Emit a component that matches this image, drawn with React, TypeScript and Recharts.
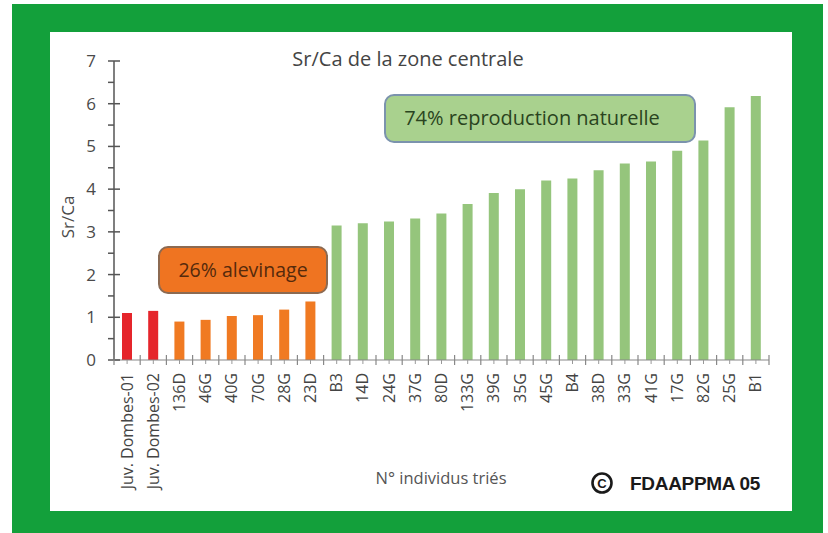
import React from 'react';
import { BarChart, Bar, XAxis, YAxis, Cell } from 'recharts';

const categories = [
  'Juv. Dombes-01', 'Juv. Dombes-02', '136D', '46G', '40G', '70G', '28G', '23D',
  'B3', '14D', '24G', '37G', '80D', '133G', '39G', '35G', '45G', 'B4', '38D',
  '33G', '41G', '17G', '82G', '25G', 'B1',
];
const srCaValues = [
  1.1, 1.15, 0.9, 0.94, 1.03, 1.05, 1.18, 1.37,
  3.15, 3.2, 3.24, 3.31, 3.43, 3.65, 3.91, 4.0, 4.2, 4.25, 4.44,
  4.6, 4.65, 4.9, 5.14, 5.92, 6.18,
];
const groups = [
  'juv', 'juv', 'alev', 'alev', 'alev', 'alev', 'alev', 'alev',
  'nat', 'nat', 'nat', 'nat', 'nat', 'nat', 'nat', 'nat', 'nat', 'nat', 'nat',
  'nat', 'nat', 'nat', 'nat', 'nat', 'nat',
];
const groupColors: Record<string, string> = { juv: '#e5252b', alev: '#f07a22', nat: '#95c57c' };
const yTicks = [0, 0.5, 1, 1.5, 2, 2.5, 3, 3.5, 4, 4.5, 5, 5.5, 6, 6.5, 7];

const data = categories.map((c, i) => ({ name: c, value: srCaValues[i], group: groups[i] }));

const FONT = '"Open Sans", "DejaVu Sans", sans-serif';

const YTick = (props: any) => {
  const { x, y, payload } = props;
  const v = payload.value;
  const major = Number.isInteger(v);
  return (
    <g>
      <line x1={x - 6} x2={x + (major ? 6 : 0)} y1={y} y2={y} stroke="#555" strokeWidth={1.5} />
      {major && (
        <text x={x - 18} y={y} dy={6} textAnchor="end" fontSize={17} fill="#4a4a4a" fontFamily={FONT}>
          {v}
        </text>
      )}
    </g>
  );
};

const XTick = (props: any) => {
  const { x, y, payload, index } = props;
  const off = payload && payload.offset ? payload.offset : 13.1;
  const last = index === categories.length - 1;
  return (
    <g>
      <line x1={x - off} x2={x - off} y1={y - 5} y2={y + 5} stroke="#888" strokeWidth={1.2} />
      {last && <line x1={x + off} x2={x + off} y1={y - 5} y2={y + 5} stroke="#888" strokeWidth={1.2} />}
      <line x1={x} x2={x} y1={y} y2={y + 4} stroke="#999" strokeWidth={1} />
      <text
        transform={`translate(${x},${y + 13}) rotate(-90)`}
        textAnchor="end"
        dy={5.5}
        fontSize={16}
        fill="#444"
        fontFamily={FONT}
      >
        {payload.value}
      </text>
    </g>
  );
};

export default function App() {
  return (
    <div style={{ position: 'absolute', left: 0, top: 0, width: 828, height: 533, background: '#ffffff', overflow: 'hidden' }}>
      <div style={{ position: 'absolute', left: 12, top: 4, width: 811, height: 540, background: '#13a03b' }} />
      <div style={{ position: 'absolute', left: 50, top: 32, width: 742, height: 479, background: '#ffffff' }} />
      <div style={{ position: 'absolute', left: 50, top: 32 }}>
        <BarChart
          width={742}
          height={479}
          data={data}
          margin={{ top: 29, right: 23, bottom: 0, left: 24 }}
        >
          <YAxis
            type="number"
            domain={[0, 7]}
            ticks={yTicks}
            interval={0}
            width={40}
            tickSize={0}
            tickMargin={0}
            tickLine={false}
            axisLine={{ stroke: '#555', strokeWidth: 1.5 }}
            tick={<YTick />}
          />
          <XAxis
            dataKey="name"
            interval={0}
            height={151}
            tickSize={0}
            tickMargin={0}
            tickLine={false}
            axisLine={{ stroke: '#888', strokeWidth: 1.2 }}
            tick={<XTick />}
          />
          <Bar dataKey="value" barSize={10} isAnimationActive={false}>
            {data.map((d, i) => (
              <Cell key={i} fill={groupColors[d.group]} />
            ))}
          </Bar>
        </BarChart>
      </div>
      <svg width={828} height={533} style={{ position: 'absolute', left: 0, top: 0, pointerEvents: 'none' }}>
        <text x={408} y={66} textAnchor="middle" fontSize={20} fill="#444" fontFamily={FONT}>
          Sr/Ca de la zone centrale
        </text>
        <text transform="translate(74,217) rotate(-90)" textAnchor="middle" fontSize={17} fill="#4a4a4a" fontFamily={FONT}>
          Sr/Ca
        </text>
        <text x={441} y={484} textAnchor="middle" fontSize={16.5} fill="#555" fontFamily={FONT}>
          N° individus triés
        </text>
        <circle cx={602} cy={483} r={9.5} fill="none" stroke="#1a1a1a" strokeWidth={2.6} />
        <text x={602} y={488} textAnchor="middle" fontSize={13} fontWeight="bold" fill="#1a1a1a" fontFamily='"Liberation Sans", Arial, sans-serif'>
          C
        </text>
        <text x={630} y={490} fontSize={19} fontWeight="bold" fill="#1a1a1a" fontFamily='"Liberation Sans", Arial, sans-serif' letterSpacing={-0.3}>
          FDAAPPMA 05
        </text>
        <rect x={159} y={247} width={168} height={46} rx={9} ry={9} fill="#ef7421" stroke="#8c6a52" strokeWidth={2} />
        <text x={243} y={277} textAnchor="middle" fontSize={19.5} fill="#552a0c" fontFamily={FONT}>
          26% alevinage
        </text>
        <rect x={385} y={95} width={310} height={47} rx={9} ry={9} fill="#a9d18e" stroke="#7b93ad" strokeWidth={2} />
        <text x={532} y={125} textAnchor="middle" fontSize={20} fill="#2a4420" fontFamily={FONT}>
          74% reproduction naturelle
        </text>
      </svg>
    </div>
  );
}
